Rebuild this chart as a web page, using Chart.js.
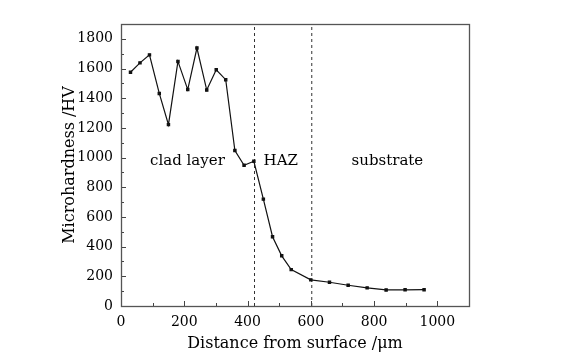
<!DOCTYPE html>
<html><head><meta charset="utf-8">
<script src="https://cdn.jsdelivr.net/npm/chart.js@4.4.0/dist/chart.umd.min.js"></script>
<style>html,body{margin:0;padding:0;background:#fff}#wrap{width:575px;height:361px}</style>
</head><body><div id="wrap"><canvas id="c" width="575" height="361"></canvas></div>
<script>
const distance = [30, 60, 90, 121, 150, 180, 211, 240, 271, 301, 331, 360, 389, 420, 450, 479, 508, 538, 600, 659, 718, 778, 838, 898, 958];
const hardness = [1575, 1638, 1692, 1432, 1222, 1648, 1458, 1738, 1455, 1592, 1525, 1048, 948, 975, 720, 467, 338, 245, 176, 160, 140, 122, 108, 109, 110];
const boundaries = [422, 603];
const regionLabels = ["clad layer", "HAZ", "substrate"];
const regionLabelX = [210, 505, 842];
const regionLabelY = 975;
const xTicks = [0, 200, 400, 600, 800, 1000];
const yTicks = [0, 200, 400, 600, 800, 1000, 1200, 1400, 1600, 1800];
const xTitle = "Distance from surface /\u03bcm";
const yTitle = "Microhardness /HV";

const FONT = "'DejaVu Serif', 'Liberation Serif', serif";
const pts = distance.map((d, i) => ({x: d, y: hardness[i]}));
const boundarySets = boundaries.map(b => ({
  data: [{x: b, y: 0}, {x: b, y: 1900}],
  borderColor: '#333', borderWidth: 1, borderDash: [3, 3], pointRadius: 0, showLine: true, fill: false
}));

const overlay = {
  id: 'overlay',
  afterDraw(chart) {
    const {ctx, chartArea: a, scales: {x, y}} = chart;
    ctx.save();
    ctx.strokeStyle = '#444';
    ctx.lineWidth = 1;
    for (let v = 0; v <= 1100; v += 100) {
      const px = Math.round(x.getPixelForValue(v)) + 0.5;
      const len = (v % 200 === 0) ? 5 : 3;
      ctx.beginPath(); ctx.moveTo(px, a.bottom); ctx.lineTo(px, a.bottom - len); ctx.stroke();
    }
    for (let v = 0; v <= 1900; v += 100) {
      const py = Math.round(y.getPixelForValue(v)) + 0.5;
      const len = (v % 200 === 0) ? 5 : 3;
      ctx.beginPath(); ctx.moveTo(a.left, py); ctx.lineTo(a.left + len, py); ctx.stroke();
    }
    ctx.strokeStyle = '#555';
    ctx.lineWidth = 1.3;
    ctx.strokeRect(a.left + 0.5, a.top + 0.5, a.right - a.left, a.bottom - a.top);
    ctx.fillStyle = '#000';
    ctx.font = "15px " + FONT;
    ctx.textAlign = 'center';
    ctx.textBaseline = 'middle';
    regionLabels.forEach((t, i) => {
      ctx.fillText(t, x.getPixelForValue(regionLabelX[i]), y.getPixelForValue(regionLabelY));
    });
    ctx.restore();
  }
};

new Chart(document.getElementById('c'), {
  type: 'scatter',
  data: {
    datasets: [{
      data: pts, showLine: true, borderColor: '#111', borderWidth: 1.2,
      pointStyle: 'rect', pointRadius: 1.6, pointBackgroundColor: '#111', pointBorderColor: '#111', fill: false
    }, ...boundarySets]
  },
  options: {
    responsive: false, animation: false,
    layout: {padding: {left: 60, right: 106, top: 24, bottom: 8}},
    plugins: {legend: {display: false}, tooltip: {enabled: false}},
    scales: {
      x: {
        type: 'linear', min: 0, max: 1100,
        afterBuildTicks: s => { s.ticks = xTicks.map(v => ({value: v})); },
        afterFit: s => { s.height = 47; },
        grid: {display: false, drawTicks: false}, border: {display: false},
        ticks: {color: '#000', font: {family: FONT, size: 14}, padding: 8, maxRotation: 0, callback: v => String(v)},
        title: {display: true, text: xTitle, color: '#000', font: {family: FONT, size: 16}, padding: {top: 0, bottom: 0}}
      },
      y: {
        type: 'linear', min: 0, max: 1900,
        afterBuildTicks: s => { s.ticks = yTicks.map(v => ({value: v})); },
        afterFit: s => { s.width = 61; },
        grid: {display: false, drawTicks: false}, border: {display: false},
        ticks: {color: '#000', font: {family: FONT, size: 14}, padding: 8, callback: v => String(v)},
        title: {display: true, text: yTitle, color: '#000', font: {family: FONT, size: 16}, padding: {top: 0, bottom: 0}}
      }
    }
  },
  plugins: [overlay]
});
</script></body></html>
